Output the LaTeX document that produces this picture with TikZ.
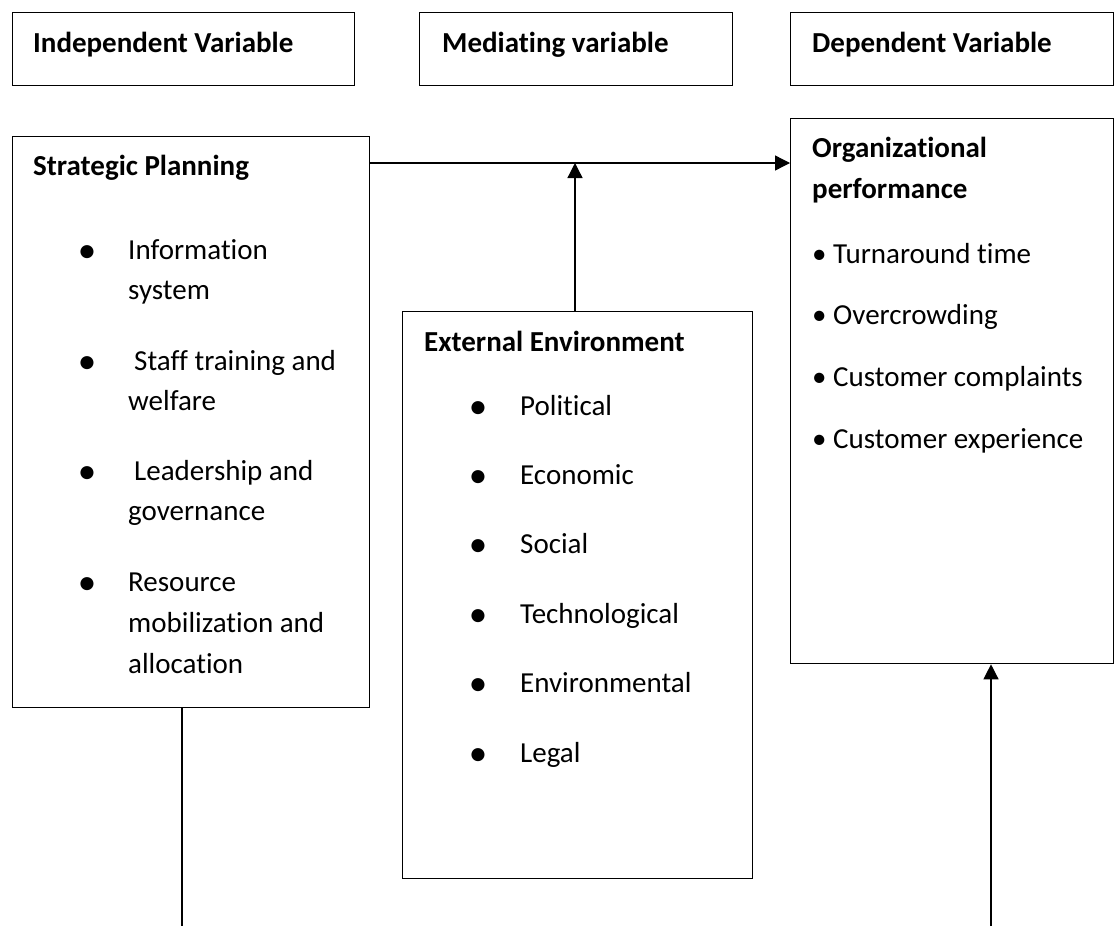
\documentclass[tikz,border=0pt]{standalone}
\usepackage{fontspec}
\setmainfont{Carlito}[Ligatures={NoCommon,NoContextual,NoRare}]
\usetikzlibrary{arrows.meta}
\tikzset{
	frame/.style={draw, line width=1.3pt, inner sep=0pt, anchor=north west},
	txt/.style={anchor=base west, inner sep=0pt, font=\fontsize{29}{40}\selectfont},
	head/.style={txt, font=\bfseries\fontsize{29}{40}\selectfont},
	dot/.style={anchor=base, inner sep=0pt, yshift=-3pt, font=\fontsize{37}{40}\selectfont},
	link/.style={line width=1.3pt},
	arr/.style={link, -{Triangle[length=15pt,width=15pt]}}
}
\begin{document}
\begin{tikzpicture}[x=1pt,y=-1pt]
	\useasboundingbox (0,0) rectangle (1115,926);
	% header boxes
	\node[frame, minimum width=342pt, minimum height=73pt] (indep) at (12,12) {};
	\node[frame, minimum width=313pt, minimum height=73pt] (medi) at (419,12) {};
	\node[frame, minimum width=323pt, minimum height=73pt] (dep) at (790,12) {};
	\node[head] (indep-t) at (33,52) {Independent Variable};
	\node[head] (medi-t) at (442,52) {Mediating variable};
	\node[head] (dep-t) at (812,52) {Dependent Variable};
	% main boxes
	\node[frame, minimum width=357pt, minimum height=571pt] (plan) at (12,136) {};
	\node[frame, minimum width=350pt, minimum height=567pt] (env) at (402,311) {};
	\node[frame, minimum width=323pt, minimum height=545pt] (perf) at (790,118) {};
	% strategic planning
	\node[head] (plan-t) at (33,175) {Strategic Planning};
	\node[dot] (plan-d1) at (87,259) {•};
	\node[txt] (plan-1a) at (128,259) {Information};
	\node[txt] (plan-1b) at (128,299) {system};
	\node[dot] (plan-d2) at (87,370) {•};
	\node[txt] (plan-2a) at (134,370) {Staff training and};
	\node[txt] (plan-2b) at (128,410) {welfare};
	\node[dot] (plan-d3) at (87,480) {•};
	\node[txt] (plan-3a) at (134,480) {Leadership and};
	\node[txt] (plan-3b) at (128,520) {governance};
	\node[dot] (plan-d4) at (87,591) {•};
	\node[txt] (plan-4a) at (128,591) {Resource};
	\node[txt] (plan-4b) at (128,632) {mobilization and};
	\node[txt] (plan-4c) at (128,673) {allocation};
	% external environment
	\node[head] (env-t) at (424,351) {External Environment};
	\foreach \word/\yy [count=\i] in {Political/415, Economic/484, Social/553,
		Technological/623, Environmental/692, Legal/762}{
		\node[dot] (env-d\i) at (478,\yy) {•};
		\node[txt] (env-\i) at (520,\yy) {\word};
	}
	% organizational performance
	\node[head] (perf-t1) at (812,157) {Organizational};
	\node[head] (perf-t2) at (812,198) {performance};
	\node[txt] (perf-1) at (812,263) {• Turnaround time};
	\node[txt] (perf-2) at (812,324) {• Overcrowding};
	\node[txt] (perf-3) at (812,386) {• Customer complaints};
	\node[txt] (perf-4) at (812,448) {• Customer experience};
	% connectors
	\coordinate (join) at (575,163);
	\coordinate (planfoot) at (182,926);
	\coordinate (perffoot) at (991,926);
	\draw[arr] (plan.east |- join) -- (perf.west |- join);
	\draw[arr] (env.north -| join) -- (join);
	\draw[link] (plan.south -| planfoot) -- (planfoot);
	\draw[arr] (perffoot) -- (perffoot |- perf.south);
\end{tikzpicture}
\end{document}
